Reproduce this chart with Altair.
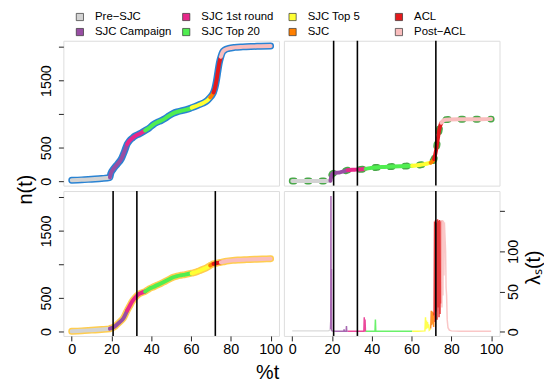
import altair as alt
import pandas as pd

# ---------------- data ----------------
PHASES = ["Pre−SJC", "SJC Campaign", "SJC 1st round", "SJC Top 20",
          "SJC Top 5", "SJC", "ACL", "Post−ACL"]
PHASE_COLORS = ["#D3D3D3", "#984EA3", "#E7298A", "#50EE50",
                "#FFFF33", "#FF7F00", "#E41A1C", "#F9BDBD"]
PHASE_START = [0, 19.2, 27.9, 36.9, 60.3, 69.6, 71.3, 75.0]
EVENT_T = [20.8, 32.75, 72.2]
X_TICKS = [0, 20, 40, 60, 80, 100]
N_TICKS = [0, 500, 1000, 1500, 2000]
L_TICKS = [0, 50, 100, 150]

# top-left panel n(t)
A_T = [0, 5, 10, 15, 19.0, 19.2, 19.6, 21, 23, 25, 26.5, 27.9, 29, 30.5, 32, 34, 36.9,
       39, 41, 43, 45, 47, 49, 51, 53, 55, 57, 59, 60.3, 62, 64, 66, 68, 69.6, 70.5, 71.3,
       72, 72.7, 73.5, 74.2, 75, 75.8, 77, 79, 82, 86, 90, 95, 100]
A_N = [16, 22, 32, 42, 55, 58, 112, 185, 258, 338, 445, 555, 603, 645, 678, 706, 757,
       795, 845, 880, 905, 938, 978, 1012, 1034, 1050, 1064, 1080, 1097, 1116, 1140, 1165,
       1200, 1250, 1282, 1325, 1390, 1490, 1640, 1765, 1855, 1922, 1958, 1980, 1995, 2003,
       2008, 2012, 2015]

# top-right panel n(t)
B_T = [0, 5, 10, 15, 19.0, 19.2, 19.6, 20.3, 22, 24, 26, 27.9, 30, 32, 34, 36.9, 39, 42,
       45, 48, 51, 54, 57, 60.3, 62, 64, 66, 68, 69.6, 70.5, 71.3, 72, 72.6, 73.2, 73.8,
       74.4, 75, 75.8, 77, 79, 85, 90, 95, 100]
B_N = [4, 4, 5, 5, 6, 8, 70, 115, 127, 133, 148, 166, 171, 174, 177, 186, 196, 206, 213,
       218, 221, 224, 227, 231, 235, 243, 253, 266, 278, 298, 332, 415, 515, 635, 750, 830,
       872, 903, 918, 922, 924, 925, 926, 927]

# bottom-left panel n(t)
C_T = [0, 5, 10, 15, 19.0, 19.2, 20.5, 22, 24, 26, 27.9, 29, 30.5, 32, 33.5, 35, 36.9, 39,
       41, 43, 45, 47, 49, 51, 53, 55, 57, 60.3, 62, 64, 66, 68, 69.6, 70.5, 71.3, 72, 73,
       74, 75, 77, 79, 81, 84, 88, 92, 96, 100]
C_N = [5, 12, 22, 32, 42, 45, 58, 85, 140, 200, 315, 375, 455, 510, 555, 578, 598, 640,
       665, 693, 720, 750, 780, 810, 828, 840, 850, 870, 882, 905, 930, 955, 985, 1000,
       1010, 1015, 1022, 1028, 1032, 1045, 1055, 1062, 1068, 1073, 1078, 1082, 1086]

# bottom-right panel lambda_s(t)
D_T = [0, 3, 6, 9, 12, 15, 18, 19.0,
       19.2, 19.35, 19.45, 19.55, 19.7, 19.8, 20.0, 22, 24, 25.9, 26.05, 26.2, 27.1, 27.25, 27.4,
       27.9, 30, 33, 36.0, 36.2, 36.35, 36.6, 36.8,
       36.9, 39, 41.6, 41.8, 42.0, 45, 50, 55, 60,
       60.3, 63, 66.7, 67.0, 67.2, 67.5, 67.7, 68.0, 68.3, 68.6, 68.9, 69.3,
       69.6, 69.9, 70.1, 70.4, 70.6, 70.9, 71.1,
       71.3, 71.55, 71.8, 72.05, 72.3, 72.55, 72.8, 73.05, 73.3, 73.55, 73.8, 74.05, 74.3,
       74.55, 74.8,
       75.0, 75.25, 75.5, 75.75, 76.0, 76.25, 76.5, 76.8, 77.1, 77.35, 77.6, 77.9, 78.3, 79,
       80, 85, 90, 95, 100]
D_L = [1, 1, 1, 1, 1, 1, 1, 2,
       3, 14, 169, 3, 78, 2, 1, 0.5, 0.5, 0.5, 3, 0.5, 0.5, 7, 0.5,
       0.5, 0.5, 0.5, 0.5, 18, 1, 15, 0.5,
       0.5, 0.5, 0.5, 15, 0.5, 0.5, 0.5, 0.5, 0.5,
       0.5, 0.5, 1, 18, 3, 14, 4, 12, 5, 9, 2, 3,
       4, 26, 8, 25, 10, 24, 6,
       20, 137, 12, 139, 25, 136, 15, 140, 30, 138, 18, 139, 22, 137, 35,
       138, 30, 139, 45, 138, 70, 136, 118, 100, 55, 45, 15, 5, 2,
       1, 0.5, 0.5, 0.5, 0.5]

FONT = "Liberation Sans"


def phase_of(t):
    k = 0
    for i, s in enumerate(PHASE_START):
        if t >= s:
            k = i
    return k


def segments(ts, vs):
    ph = [phase_of(t) for t in ts]
    rows = []
    for i, (t, v) in enumerate(zip(ts, vs)):
        rows.append(dict(t=t, v=v, phase=PHASES[ph[i]], i=i))
        if i + 1 < len(ts) and ph[i + 1] != ph[i]:
            rows.append(dict(t=ts[i + 1], v=vs[i + 1], phase=PHASES[ph[i]], i=i + 1))
    return pd.DataFrame(rows)


# ---------------- scales / axes ----------------
W, H = 218, 146.5
xs = alt.Scale(domain=[-4.2, 104.2], nice=False, zero=False)
ns = alt.Scale(domain=[-64, 2094], nice=False, zero=False)
ls = alt.Scale(domain=[-5.3, 175], nice=False, zero=False)
cs = alt.Scale(domain=PHASES, range=PHASE_COLORS)

common_axis = dict(tickSize=5, tickColor="#222", tickWidth=1, labelFontSize=14.5,
                   labelFont=FONT, labelColor="black", domain=False, grid=False)


def x_axis(title=None):
    kw = dict(common_axis, values=X_TICKS, format="d", labelPadding=2,
              labelFlush=False, labelOverlap=False)
    if title:
        kw.update(title=title, titleX=206, titleY=37, titleAngle=0, titleAlign="center",
                  titleBaseline="middle", titleFontSize=20, titleFont=FONT,
                  titleFontWeight="normal", titleColor="black")
    else:
        kw.update(title=None)
    return alt.Axis(**kw)


def n_axis(title=None):
    kw = dict(common_axis, values=N_TICKS, format="d",
              labelExpr="datum.value == 1000 || datum.value == 2000 ? '' : datum.label",
              labelAngle=270, labelAlign="center", labelBaseline="alphabetic",
              labelPadding=8, labelOverlap=False)
    if title:
        kw.update(title=title, titleX=-38, titleY=150, titleAngle=270, titleAlign="center",
                  titleBaseline="middle", titleFontSize=20, titleFont=FONT,
                  titleFontWeight="normal", titleColor="black")
    else:
        kw.update(title=None)
    return alt.Axis(**kw)


l_axis = alt.Axis(orient="right", values=L_TICKS, format="d",
                  labelExpr="datum.value == 150 ? '' : datum.label",
                  labelAngle=270, labelAlign="center", labelBaseline="top",
                  labelPadding=2, labelOverlap=False,
                  title="λₛ(t)", titleX=34, titleY=77, titleAngle=270, titleAlign="center",
                  titleBaseline="middle", titleFontSize=20, titleFont=FONT,
                  titleFontWeight="normal", titleColor="black", **common_axis)

events_df = pd.DataFrame({"t": EVENT_T})


def rules(xaxis):
    return alt.Chart(events_df).mark_rule(color="black", strokeWidth=1.6).encode(
        x=alt.X("t:Q", scale=xs, axis=xaxis))


def curve_panel(ts, vs, outline_color, outline_kw, xaxis, yaxis, events):
    df = pd.DataFrame({"t": ts, "v": vs, "i": list(range(len(ts)))})
    X = alt.X("t:Q", scale=xs, axis=xaxis)
    Y = alt.Y("v:Q", scale=ns, axis=yaxis)
    outline = alt.Chart(df).mark_line(
        color=outline_color, strokeWidth=7, strokeCap="round", strokeJoin="round",
        interpolate="monotone", clip=True, **outline_kw
    ).encode(x=X, y=Y, order="i:Q")
    inner = alt.Chart(segments(ts, vs)).mark_line(
        strokeWidth=4, strokeCap="round", strokeJoin="round",
        interpolate="monotone", clip=True
    ).encode(x=X, y=Y,
             color=alt.Color("phase:N", scale=cs, legend=None), order="i:Q")
    layers = [outline, inner]
    if events:
        layers.append(rules(xaxis))
    return alt.layer(*layers).properties(width=W, height=H)


# legend (drawn inside the top-left panel's layer, with its own scales)
leg_df = pd.DataFrame({"label": PHASES,
                       "col": [i // 2 for i in range(len(PHASES))],
                       "row": [i % 2 for i in range(len(PHASES))]})
LX = alt.X("col:Q", scale=alt.Scale(domain=[0, 3], range=[16.7, 339.3]), axis=None)
LY = alt.Y("row:Q", scale=alt.Scale(domain=[0, 1], range=[-24, -8.8]), axis=None)
leg_sq = alt.Chart(leg_df).mark_square(size=53, stroke="#333", strokeWidth=0.7,
                                       opacity=1).encode(
    x=LX, y=LY, color=alt.Color("label:N", scale=cs, legend=None))
leg_tx = alt.Chart(leg_df).mark_text(align="left", baseline="middle", dx=15.3,
                                     fontSize=11.5, font=FONT, color="black").encode(
    x=LX, y=LY, text="label:N")
legend_layer = alt.layer(leg_sq, leg_tx)

A = curve_panel(A_T, A_N, "#2983D3", {}, None, n_axis("n(t)"), False)
A = alt.layer(A, legend_layer).resolve_scale(x="independent", y="independent").properties(
    width=W, height=H)
B = curve_panel(B_T, B_N, "#4AA84A", {"strokeDash": [2, 13]}, None, None, True)
C = curve_panel(C_T, C_N, "#FFC83C", {"opacity": 0.9}, x_axis("%t"), n_axis(None), True)

d_seg = segments(D_T, D_L)
d_xaxis = x_axis(None)
D_line = alt.Chart(d_seg).mark_line(strokeWidth=1.5, opacity=0.85, clip=True).encode(
    x=alt.X("t:Q", scale=xs, axis=d_xaxis),
    y=alt.Y("v:Q", scale=ls, axis=l_axis),
    color=alt.Color("phase:N", scale=cs, legend=None),
    order="i:Q")
D = alt.layer(D_line, rules(d_xaxis)).properties(width=W, height=H)

chart = alt.concat(A, B, C, D, columns=2, spacing=5, bounds="flush").resolve_scale(
    x="independent", y="independent"
).properties(
    padding={"left": 7, "top": 0, "right": 0, "bottom": 0}
).configure_view(stroke="#555", strokeWidth=1).configure(font=FONT)

chart.save("out.html", embed_options={"renderer": "svg", "actions": False})
